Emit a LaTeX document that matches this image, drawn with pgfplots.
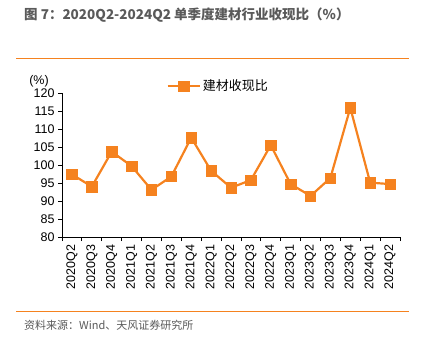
\documentclass[border=0pt]{standalone}
\usepackage{fontspec}
\setmainfont{Liberation Sans}
\newfontfamily\cjk{Noto Sans CJK SC}
\usepackage{pgfplots}
\pgfplotsset{compat=1.18}
\definecolor{org}{HTML}{F5821F}
\definecolor{titlegray}{HTML}{5A5A5A}
\definecolor{footgray}{HTML}{595959}
\begin{document}
\begin{tikzpicture}[x=1pt,y=1pt]
\path[use as bounding box] (0,0) rectangle (422,-340);
\node[anchor=west, inner sep=0pt, text=titlegray, font=\cjk\bfseries\fontsize{13.5}{13.5}\selectfont] at (24,-15) {图 7：2020Q2-2024Q2 单季度建材行业收现比（\%）};
\draw[org, line width=1pt] (16,-58) -- (409,-58);
\draw[org, line width=1pt] (16,-311) -- (409,-311);
\node[anchor=west, inner sep=0pt, text=footgray, font=\cjk\fontsize{11}{11}\selectfont] at (24,-325) {资料来源：Wind、天风证券研究所};
\node[inner sep=0pt, font=\fontsize{12.5}{12.5}\selectfont] at (39,-81) {(\%)};
\begin{axis}[
  at={(62pt,-237pt)}, anchor=south west,
  scale only axis, width=338pt, height=144pt,
  xmin=-0.5, xmax=16.5, ymin=80, ymax=120,
  axis x line*=bottom, axis y line*=left,
  axis line style={black, line width=0.8pt, -},
  ytick={80,85,...,120},
  xtick={0,...,16},
  xticklabels={2020Q2,2020Q3,2020Q4,2021Q1,2021Q2,2021Q3,2021Q4,2022Q1,2022Q2,2022Q3,2022Q4,2023Q1,2023Q2,2023Q3,2023Q4,2024Q1,2024Q2},
  minor xtick={-0.5,0.5,...,16.5},
  tick align=outside,
  major tick length=4pt, minor tick length=4pt,
  x tick style={draw=none},
  minor x tick style={draw=black, line width=0.8pt},
  y tick style={black, line width=0.8pt},
  tick label style={font=\fontsize{12.5}{12.5}\selectfont},
  /pgf/number format/assume math mode=true,
  x tick label style={rotate=90, anchor=east},
  clip=false,
  legend style={at={(0.462,1.049)}, anchor=center, draw=none, fill=none, font=\cjk\fontsize{13}{13}\selectfont},
  legend image code/.code={\draw[mark repeat=2,mark phase=2,#1] plot coordinates {(0pt,0pt)(16pt,0pt)(32pt,0pt)};},
]
\addplot[org, line width=2.2pt, mark=square*, mark size=5.2pt, mark options={solid, fill=org, line width=0.5pt}] table {
x y
0 97.4
1 94.0
2 103.7
3 99.7
4 93.1
5 96.8
6 107.6
7 98.4
8 93.7
9 95.8
10 105.5
11 94.7
12 91.4
13 96.4
14 115.9
15 95.1
16 94.7
};
\addlegendentry{建材收现比}
\end{axis}
\end{tikzpicture}
\end{document}
